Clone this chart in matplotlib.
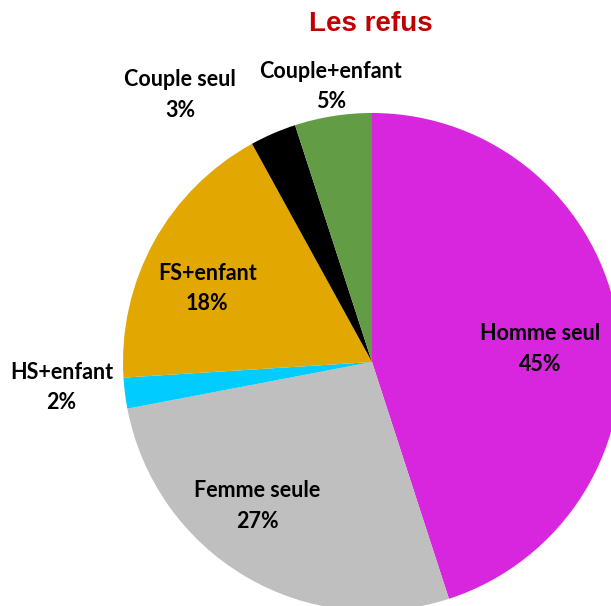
import numpy as np
import matplotlib.pyplot as plt
import matplotlib.transforms as mtransforms

categories = ['Homme seul', 'Femme seule', 'HS+enfant', 'FS+enfant', 'Couple seul', 'Couple+enfant']
shares = [45, 27, 2, 18, 3, 5]
colors = ['#D726DE', '#BFBFBF', '#00CCFF', '#E2A700', '#000000', '#629C44']

# label placement: distance from centre (radius units) and angle shift from wedge middle
label_r = [0.68, 0.73, 1.25, 0.73, 1.33, 1.13]
label_shift = [-3.6, -8.6, -3.0, 3.8, 12.0, -0.6]

W, H = 611, 606
fig = plt.figure(figsize=(W / 100, H / 100), dpi=100)

cx, cy, R = 372, 362, 249
ax = fig.add_axes([(cx - R) / W, (H - cy - R) / H, 2 * R / W, 2 * R / H])
ax.set_clip_on(False)

wedges, _ = ax.pie(shares, colors=colors, startangle=90, counterclock=False,
                   radius=1, wedgeprops=dict(linewidth=0))
for w in wedges:
    w.set_clip_on(False)

# nudge labels a few pixels down
nudge = ax.transData + mtransforms.ScaledTranslation(0, -3 / 100, fig.dpi_scale_trans)
for w, name, val, r, sh in zip(wedges, categories, shares, label_r, label_shift):
    mid = np.deg2rad((w.theta1 + w.theta2) / 2 + sh)
    ax.text(r * np.cos(mid), r * np.sin(mid), f'{name}\n{val}%',
            ha='center', va='center', fontsize=15.5, fontweight='bold',
            family='Lato', linespacing=1.55, color='black', transform=nudge)

ax.set_xlim(-1, 1)
ax.set_ylim(-1, 1)
ax.set_aspect('equal')
ax.axis('off')

fig.text(371 / W, 1 - 24 / H, 'Les refus', ha='center', va='center',
         fontsize=20, fontweight='bold', family='Liberation Sans', color='#C00000')

fig.savefig('out.png', dpi=100)
